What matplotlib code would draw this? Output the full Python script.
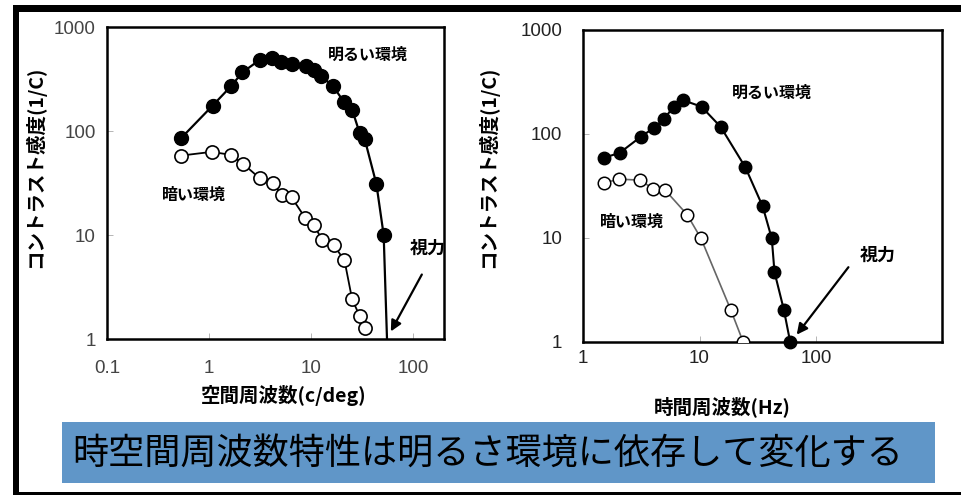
import numpy as np
import matplotlib
matplotlib.use("Agg")
import matplotlib.pyplot as plt
from matplotlib.patches import Rectangle

plt.rcParams['font.family'] = ['Noto Sans CJK JP', 'DejaVu Sans']

# -----------------------------------------------------
#  Data
# -----------------------------------------------------
# spatial frequency (c/deg) - bright environment
sp_bright_x = [0.53, 1.08, 1.63, 2.12, 3.15, 4.16, 5.09, 6.43, 8.8, 10.6,
               12.5, 16.3, 20.8, 25.2, 29.9, 33.4, 43.5, 51.3, 55.3]
sp_bright_y = [85, 175, 268, 366, 485, 502, 463, 440, 418, 383,
               335, 272, 192, 160, 95, 84, 31, 10, 1.0]
# spatial frequency - dark environment
sp_dark_x = [0.53, 1.06, 1.63, 2.17, 3.15, 4.25, 5.13, 6.43, 8.78, 10.6,
             12.8, 16.6, 21.2, 25.2, 29.9, 33.4]
sp_dark_y = [58, 63, 59, 48, 35, 31.5, 24, 23, 14.5, 12.5,
             9.0, 8.0, 5.7, 2.4, 1.66, 1.27]

# temporal frequency (Hz) - bright environment
tm_bright_x = [1.51, 2.07, 3.13, 4.08, 4.92, 6.0, 7.18, 10.4, 15.2, 24.7,
               34.8, 41.7, 44.0, 52.9, 60.0]
tm_bright_y = [59, 66, 94, 115, 138, 183, 212, 183, 117, 48,
               20.2, 9.9, 4.7, 2.05, 1.0]
# temporal frequency - dark environment
tm_dark_x = [1.51, 2.05, 3.09, 3.98, 5.08, 7.82, 10.3, 18.5, 23.7]
tm_dark_y = [33.9, 36.8, 36, 29.9, 28.8, 16.8, 9.9, 2.05, 1.0]

yticks = [1, 10, 100, 1000]
ytick_labels = ["1", "10", "100", "1000"]
sp_xticks = [0.1, 1, 10, 100]
sp_xtick_labels = ["0.1", "1", "10", "100"]
tm_xticks = [1, 10, 100]
tm_xtick_labels = ["1", "10", "100"]

ylabel = "コントラスト感度(1/C)"
sp_xlabel = "空間周波数(c/deg)"
tm_xlabel = "時間周波数(Hz)"
bright_label = "明るい環境"
dark_label = "暗い環境"
acuity_label = "視力"
banner_text = "時空間周波数特性は明るさ環境に依存して変化する"

W, H = 961, 497
fig = plt.figure(figsize=(W / 100, H / 100), dpi=100)


def fx(px):
    return px / W


def fy(py):
    return 1 - py / H


cjk = ['Noto Sans CJK JP', 'DejaVu Sans']
num_font = ['Liberation Sans', 'DejaVu Sans']

# -----------------------------------------------------
#  Left panel: spatial frequency
# -----------------------------------------------------
ax1 = fig.add_axes([fx(107), fy(339), fx(444) - fx(107), fy(27) - fy(339)])
ax1.plot(sp_dark_x, sp_dark_y, '-o', color='black', lw=1.3, ms=9.5,
         mfc='white', mec='black', mew=1.2, zorder=3)
ax1.plot(sp_bright_x, sp_bright_y, '-o', color='black', lw=1.6, ms=10,
         mfc='black', mec='black', markevery=list(range(len(sp_bright_x) - 1)),
         zorder=4)
ax1.set_xscale('log')
ax1.set_yscale('log')
ax1.set_xlim(0.1, 200)
ax1.set_ylim(1, 1000)
ax1.set_xticks(sp_xticks)
ax1.set_xticklabels(sp_xtick_labels)
ax1.set_yticks(yticks)
ax1.set_yticklabels(ytick_labels)
ax1.minorticks_off()
ax1.tick_params(axis='both', direction='in', length=4, width=0.6,
                color='#aaaaaa', labelsize=13.5, labelcolor='#444444')
ax1.tick_params(axis='x', pad=15)
ax1.tick_params(axis='y', pad=8)
for lab in ax1.get_xticklabels() + ax1.get_yticklabels():
    lab.set_family(num_font)
for sp in ax1.spines.values():
    sp.set_linewidth(1.8)

ax1.text(35.7, 538, bright_label, ha='center', va='center', fontsize=11.5,
         fontweight='bold', family=cjk)
ax1.text(0.71, 24.3, dark_label, ha='center', va='center', fontsize=11.5,
         fontweight='bold', family=cjk)
ax1.text(140, 7.5, acuity_label, ha='center', va='center', fontsize=13,
         fontweight='bold', family=cjk)
ax1.annotate("", xy=(58.5, 1.12), xytext=(125, 4.4),
             arrowprops=dict(arrowstyle='-|>', color='black', lw=1.6,
                             mutation_scale=16))

# -----------------------------------------------------
#  Right panel: temporal frequency
# -----------------------------------------------------
ax2 = fig.add_axes([fx(583), fy(342), fx(942) - fx(583), fy(30) - fy(342)])
ax2.plot(tm_dark_x, tm_dark_y, '-o', color='#666666', lw=1.2, ms=9,
         mfc='white', mec='black', mew=1.1, zorder=3)
ax2.plot(tm_bright_x, tm_bright_y, '-o', color='black', lw=1.5, ms=9,
         mfc='black', mec='black', zorder=4, clip_on=False)
ax2.set_xscale('log')
ax2.set_yscale('log')
ax2.set_xlim(1, 1205)
ax2.set_ylim(1, 1000)
ax2.set_xticks(tm_xticks)
ax2.set_xticklabels(tm_xtick_labels)
ax2.set_yticks(yticks)
ax2.set_yticklabels(ytick_labels)
ax2.minorticks_off()
ax2.tick_params(axis='both', direction='in', length=4, width=0.6,
                color='#aaaaaa', labelsize=13.5, labelcolor='#222222')
ax2.tick_params(axis='x', pad=6)
ax2.tick_params(axis='y', pad=15)
for lab in ax2.get_xticklabels() + ax2.get_yticklabels():
    lab.set_family(num_font)
for sp in ax2.spines.values():
    sp.set_linewidth(1.8)

ax2.text(41.9, 248, bright_label, ha='center', va='center', fontsize=11.5,
         fontweight='bold', family=cjk)
ax2.text(2.63, 14.3, dark_label, ha='center', va='center', fontsize=11.5,
         fontweight='bold', family=cjk)
ax2.text(340, 6.9, acuity_label, ha='center', va='center', fontsize=13,
         fontweight='bold', family=cjk)
ax2.annotate("", xy=(66, 1.12), xytext=(196, 5.5),
             arrowprops=dict(arrowstyle='-|>', color='black', lw=1.6,
                             mutation_scale=16))

# -----------------------------------------------------
#  Axis labels
# -----------------------------------------------------
fig.text(fx(35), fy(167), ylabel, rotation=90, ha='center', va='center',
         fontsize=14, fontweight='bold', family=cjk)
fig.text(fx(488), fy(167), ylabel, rotation=90, ha='center', va='center',
         fontsize=14, fontweight='bold', family=cjk)
fig.text(fx(284), fy(395), sp_xlabel, ha='center', va='center',
         fontsize=14, fontweight='bold', family=cjk)
fig.text(fx(722), fy(407), tm_xlabel, ha='center', va='center',
         fontsize=14, fontweight='bold', family=cjk)

# -----------------------------------------------------
#  Banner and outer frame
# -----------------------------------------------------
fig.patches.append(Rectangle((fx(62), fy(483)), fx(935) - fx(62), fy(422) - fy(483),
                             transform=fig.transFigure, facecolor='#6096C8',
                             edgecolor='none', zorder=1))
fig.text(fx(488), fy(455), banner_text, ha='center', va='center',
         fontsize=26, color='black', family=cjk, zorder=2)

fig.patches.append(Rectangle((fx(13), fy(12)), 1 - fx(13), fy(5) - fy(12),
                             transform=fig.transFigure, facecolor='black',
                             edgecolor='none'))
fig.patches.append(Rectangle((fx(13), fy(495)), fx(19) - fx(13), fy(5) - fy(495),
                             transform=fig.transFigure, facecolor='black',
                             edgecolor='none'))
fig.patches.append(Rectangle((fx(13), fy(495)), 1 - fx(13), fy(492) - fy(495),
                             transform=fig.transFigure, facecolor='black',
                             edgecolor='none'))

fig.savefig("out.png", dpi=100)
